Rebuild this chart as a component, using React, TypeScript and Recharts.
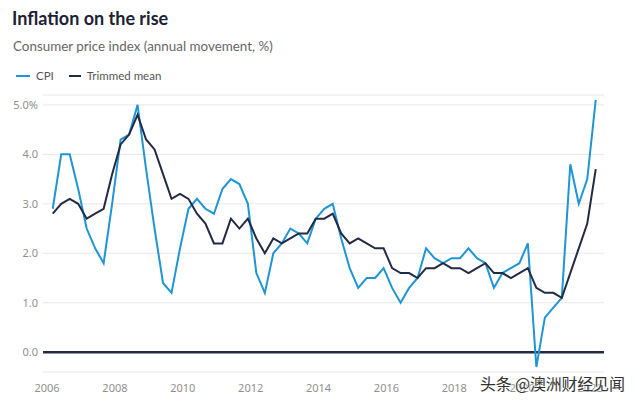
import React from "react";
import { LineChart, Line, XAxis, YAxis, CartesianGrid, ReferenceLine } from "recharts";

const quarters = [
  "2006-03","2006-06","2006-09","2006-12",
  "2007-03","2007-06","2007-09","2007-12",
  "2008-03","2008-06","2008-09","2008-12",
  "2009-03","2009-06","2009-09","2009-12",
  "2010-03","2010-06","2010-09","2010-12",
  "2011-03","2011-06","2011-09","2011-12",
  "2012-03","2012-06","2012-09","2012-12",
  "2013-03","2013-06","2013-09","2013-12",
  "2014-03","2014-06","2014-09","2014-12",
  "2015-03","2015-06","2015-09","2015-12",
  "2016-03","2016-06","2016-09","2016-12",
  "2017-03","2017-06","2017-09","2017-12",
  "2018-03","2018-06","2018-09","2018-12",
  "2019-03","2019-06","2019-09","2019-12",
  "2020-03","2020-06","2020-09","2020-12",
  "2021-03","2021-06","2021-09","2021-12",
  "2022-03",
];

const cpi = [
  2.9, 4.0, 4.0, 3.3,
  2.5, 2.1, 1.8, 3.0,
  4.3, 4.4, 5.0, 3.7,
  2.5, 1.4, 1.2, 2.1,
  2.9, 3.1, 2.9, 2.8,
  3.3, 3.5, 3.4, 3.0,
  1.6, 1.2, 2.0, 2.2,
  2.5, 2.4, 2.2, 2.7,
  2.9, 3.0, 2.3, 1.7,
  1.3, 1.5, 1.5, 1.7,
  1.3, 1.0, 1.3, 1.5,
  2.1, 1.9, 1.8, 1.9,
  1.9, 2.1, 1.9, 1.8,
  1.3, 1.6, 1.7, 1.8,
  2.2, -0.3, 0.7, 0.9,
  1.1, 3.8, 3.0, 3.5,
  5.1,
];

const trimmedMean = [
  2.8, 3.0, 3.1, 3.0,
  2.7, 2.8, 2.9, 3.6,
  4.2, 4.4, 4.8, 4.3,
  4.1, 3.6, 3.1, 3.2,
  3.1, 2.8, 2.6, 2.2,
  2.2, 2.7, 2.5, 2.7,
  2.3, 2.0, 2.3, 2.2,
  2.3, 2.4, 2.4, 2.7,
  2.7, 2.8, 2.4, 2.2,
  2.3, 2.2, 2.1, 2.1,
  1.7, 1.6, 1.6, 1.5,
  1.7, 1.7, 1.8, 1.7,
  1.7, 1.6, 1.7, 1.8,
  1.6, 1.6, 1.5, 1.6,
  1.7, 1.3, 1.2, 1.2,
  1.1, 1.6, 2.1, 2.6,
  3.7,
];

const yearTicks = [2006, 2008, 2010, 2012, 2014, 2016, 2018, 2020, 2022];
const valueTicks = [0, 1, 2, 3, 4, 5];

const toYear = (q: string) => {
  const [y, m] = q.split("-").map(Number);
  return y + (m - 1) / 12;
};

const data = quarters.map((q, i) => ({
  t: toYear(q),
  cpi: cpi[i],
  trimmed: trimmedMean[i],
}));

const CPI_COLOR = "#1f95d3";
const TM_COLOR = "#232a45";
const FONT = "'Noto Sans', 'Open Sans', sans-serif";
const HEAD_FONT = "Lato, 'Noto Sans', sans-serif";

export default function App() {
  return (
    <div
      style={{
        position: "fixed",
        left: 0,
        top: 0,
        width: 640,
        height: 404,
        background: "#ffffff",
        fontFamily: FONT,
        overflow: "hidden",
      }}
    >
      <div
        style={{
          position: "absolute",
          left: 12,
          top: 6,
          fontSize: 18,
          lineHeight: "24px",
          fontWeight: 700,
          fontFamily: HEAD_FONT,
          color: "#1c2234",
          whiteSpace: "nowrap",
        }}
      >
        Inflation on the rise
      </div>
      <div
        style={{
          position: "absolute",
          left: 13,
          top: 37,
          fontSize: 13.4,
          lineHeight: "18px",
          fontFamily: HEAD_FONT,
          color: "#666666",
          whiteSpace: "nowrap",
        }}
      >
        Consumer price index (annual movement, %)
      </div>
      <div
        style={{
          position: "absolute",
          left: 16,
          top: 68,
          display: "flex",
          alignItems: "center",
          fontSize: 11.5,
          lineHeight: "16px",
          fontFamily: HEAD_FONT,
          color: "#555555",
          whiteSpace: "nowrap",
        }}
      >
        <span style={{ display: "inline-block", width: 14, height: 2, background: CPI_COLOR, marginRight: 6 }} />
        <span style={{ marginRight: 15 }}>CPI</span>
        <span style={{ display: "inline-block", width: 12, height: 2, background: TM_COLOR, marginRight: 6 }} />
        <span>Trimmed mean</span>
      </div>
      <div style={{ position: "absolute", left: 0, top: 0 }}>
        <LineChart
          width={640}
          height={404}
          data={data}
          margin={{ top: 95, right: 36, bottom: 2, left: 0 }}
        >
          <CartesianGrid vertical={false} stroke="#e8e8e8" strokeWidth={1} />
          <XAxis
            dataKey="t"
            type="number"
            domain={[2005.88, 2022.41]}
            ticks={yearTicks}
            allowDataOverflow
            tickLine={false}
            axisLine={false}
            tickSize={0}
            tickMargin={12}
            height={30}
            tick={{ fill: "#8f8f8f", fontSize: 11, fontFamily: FONT }}
            interval={0}
          />
          <YAxis
            type="number"
            domain={[-0.4, 5.2]}
            ticks={valueTicks}
            allowDataOverflow
            tickLine={false}
            axisLine={false}
            tickSize={0}
            tickMargin={5}
            width={43}
            tick={{ fill: "#8f8f8f", fontSize: 11, fontFamily: FONT }}
            tickFormatter={(v: number) => (v === 5 ? "5.0%" : v.toFixed(1))}
            interval={0}
          />
          <ReferenceLine y={0} stroke={TM_COLOR} strokeWidth={2.5} ifOverflow="extendDomain" />
          <Line
            type="linear"
            dataKey="cpi"
            stroke={CPI_COLOR}
            strokeWidth={2}
            dot={false}
            isAnimationActive={false}
          />
          <Line
            type="linear"
            dataKey="trimmed"
            stroke={TM_COLOR}
            strokeWidth={2}
            dot={false}
            isAnimationActive={false}
          />
        </LineChart>
      </div>
      <div
        style={{
          position: "absolute",
          left: 480,
          top: 372,
          fontSize: 16,
          lineHeight: "22px",
          letterSpacing: -0.2,
          fontFamily: "'Noto Sans CJK SC', sans-serif",
          color: "#333333",
          whiteSpace: "nowrap",
          textShadow: "0 0 2px #ffffff, 0 0 2px #ffffff",
        }}
      >
        头条 @澳洲财经见闻
      </div>
    </div>
  );
}
